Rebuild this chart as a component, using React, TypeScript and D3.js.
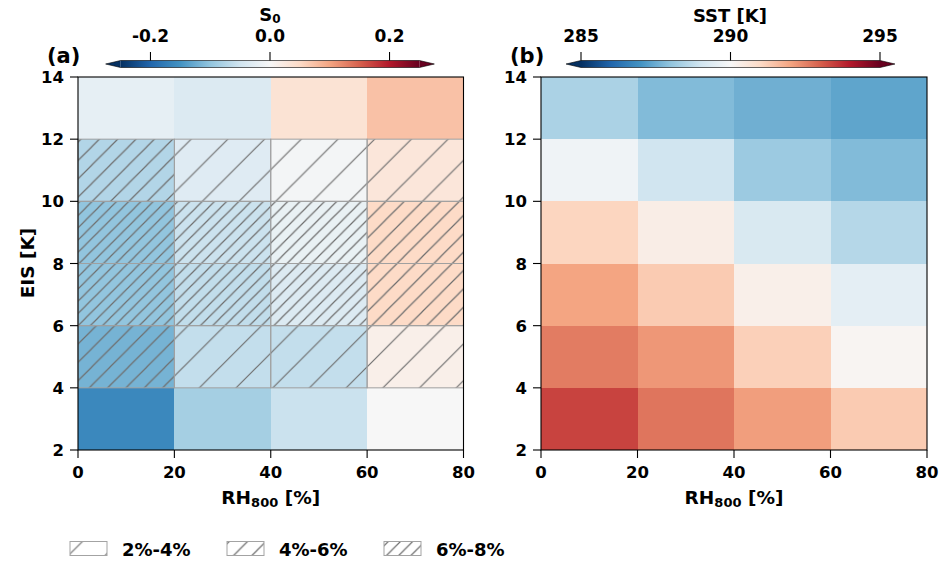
import React from 'react';
import * as d3 from 'd3';

// RH800 bins (x) and EIS bins (y)
const rhEdges = [0, 20, 40, 60, 80];
const eisEdges = [2, 4, 6, 8, 10, 12, 14];
const rhTicks = [0, 20, 40, 60, 80];
const eisTicks = [2, 4, 6, 8, 10, 12, 14];

// rows from EIS 2-4 (bottom) up to 12-14 (top), columns RH 0-20 ... 60-80
const s0Values = [
  [-0.162, -0.085, -0.055, 0.0],
  [-0.118, -0.061, -0.061, 0.015],
  [-0.1, -0.063, -0.035, 0.05],
  [-0.1, -0.055, -0.018, 0.05],
  [-0.075, -0.032, -0.005, 0.03],
  [-0.022, -0.036, 0.036, 0.074],
];
const sstValues = [
  [293.4, 292.7, 292.1, 291.3],
  [292.6, 292.2, 291.2, 290.1],
  [292.0, 291.3, 290.3, 289.5],
  [291.1, 290.36, 289.2, 288.56],
  [289.8, 289.0, 288.16, 287.8],
  [288.4, 287.8, 287.57, 287.35],
];
// sample fraction class: 0 none, 1 = 2%-4%, 2 = 4%-6%, 3 = 6%-8%
const hatchLevel = [
  [0, 0, 0, 0],
  [2, 1, 1, 1],
  [3, 3, 3, 2],
  [3, 3, 3, 2],
  [2, 1, 1, 1],
  [0, 0, 0, 0],
];
const legendLabels = ['2%-4%', '4%-6%', '6%-8%'];

const s0Ticks = [-0.2, 0.0, 0.2];
const sstTicks = [285, 290, 295];

// matplotlib RdBu_r, 11 brewer anchors linearly interpolated
const rdbuR = ['#053061', '#2166ac', '#4393c3', '#92c5de', '#d1e5f0', '#f7f7f7',
  '#fddbc7', '#f4a582', '#d6604d', '#b2182b', '#67001f'];

const makeCmap = (lo: number, hi: number) =>
  d3.scaleLinear<string>()
    .domain(d3.range(11).map(i => lo + (hi - lo) * i / 10))
    .range(rdbuR)
    .interpolate(d3.interpolateRgb)
    .clamp(true);

const font = 'DejaVu Sans, sans-serif';
const top = 77, bottom = 450;
const hatchBase = 36.7;

function Panel({ left, right, values, cmap, hatches, tag }: any) {
  const x = d3.scaleLinear().domain([0, 80]).range([left, right]);
  const y = d3.scaleLinear().domain([2, 14]).range([bottom, top]);
  const cells: any[] = [];
  values.forEach((row: number[], r: number) => {
    row.forEach((v, c) => {
      cells.push({ r, c, v, h: hatches ? hatches[r][c] : 0 });
    });
  });
  return (
    <g>
      {cells.map(d => (
        <rect key={`f${d.r}-${d.c}`}
          x={x(rhEdges[d.c])} y={y(eisEdges[d.r + 1])}
          width={x(rhEdges[d.c + 1]) - x(rhEdges[d.c])}
          height={y(eisEdges[d.r]) - y(eisEdges[d.r + 1])}
          fill={cmap(d.v)} shapeRendering="crispEdges" />
      ))}
      {cells.filter(d => d.h > 0).map(d => (
        <rect key={`h${d.r}-${d.c}`}
          x={x(rhEdges[d.c])} y={y(eisEdges[d.r + 1])}
          width={x(rhEdges[d.c + 1]) - x(rhEdges[d.c])}
          height={y(eisEdges[d.r]) - y(eisEdges[d.r + 1])}
          fill={`url(#hatch${d.h})`} stroke="#a0a0a0" strokeWidth={1} />
      ))}
      <rect x={left} y={top} width={right - left} height={bottom - top}
        fill="none" stroke="#000" strokeWidth={1.1} />
      {rhTicks.map(t => (
        <g key={`x${t}`}>
          <line x1={x(t)} x2={x(t)} y1={bottom} y2={bottom + 8} stroke="#000" strokeWidth={1.1} />
          <text x={x(t)} y={478} textAnchor="middle" fontSize={16.5} fontWeight="bold">{t}</text>
        </g>
      ))}
      {eisTicks.map(t => (
        <g key={`y${t}`}>
          <line x1={left - 8} x2={left} y1={y(t)} y2={y(t)} stroke="#000" strokeWidth={1.1} />
          <text x={left - 14} y={y(t) + 6} textAnchor="end" fontSize={16.5} fontWeight="bold">{t}</text>
        </g>
      ))}
      <text x={(left + right) / 2} y={504} textAnchor="middle" fontSize={18.5} fontWeight="bold">
        RH<tspan fontSize={13} dy={3}>800</tspan><tspan dy={-3}> [%]</tspan>
      </text>
      <text x={left - 31} y={63} fontSize={21} fontWeight="bold">{tag}</text>
    </g>
  );
}

function Colorbar({ lo, hi, x0, x1, cmap, ticks, fmt, label, id }: any) {
  const s = d3.scaleLinear().domain([lo, hi]).range([x0, x1]);
  const ext = (x1 - x0) * 0.05;
  const yt = 60.5, yb = 67.5, ym = (yt + yb) / 2;
  const stops = d3.range(0, 1.0001, 0.05);
  return (
    <g>
      <defs>
        <linearGradient id={id} x1="0" x2="1" y1="0" y2="0">
          {stops.map(t => (
            <stop key={t} offset={t} stopColor={cmap(lo + (hi - lo) * t)} />
          ))}
        </linearGradient>
      </defs>
      <path d={`M${x0},${yt}L${x0 - ext},${ym}L${x0},${yb}Z`} fill={cmap(lo)} />
      <path d={`M${x1},${yt}L${x1 + ext},${ym}L${x1},${yb}Z`} fill={cmap(hi)} />
      <rect x={x0} y={yt} width={x1 - x0} height={yb - yt} fill={`url(#${id})`} />
      <path d={`M${x0},${yt}L${x0 - ext},${ym}L${x0},${yb}L${x1},${yb}L${x1 + ext},${ym}L${x1},${yt}Z`}
        fill="none" stroke="#000" strokeWidth={0.6} />
      {ticks.map((t: number) => (
        <g key={t}>
          <line x1={s(t)} x2={s(t)} y1={yt} y2={52} stroke="#000" strokeWidth={1.1} />
          <text x={s(t)} y={42} textAnchor="middle" fontSize={17} fontWeight="bold">{fmt(t)}</text>
        </g>
      ))}
      {label}
    </g>
  );
}

export default function App() {
  const s0Cmap = makeCmap(-0.25, 0.25);
  const sstCmap = makeCmap(285, 295);
  const legendX = [70, 227, 384];
  return (
    <svg width={950} height={561} style={{ position: 'absolute', left: 0, top: 0 }}
      fontFamily={font}>
      <defs>
        {[1, 2, 3].map(k => {
          const sp = hatchBase / k;
          return (
            <pattern key={k} id={`hatch${k}`} patternUnits="userSpaceOnUse"
              width={sp} height={sp}>
              <path d={`M-2,2L2,-2M0,${sp}L${sp},0M${sp - 2},${sp + 2}L${sp + 2},${sp - 2}`}
                stroke="#6e6e6e" strokeWidth={1.2} />
            </pattern>
          );
        })}
      </defs>
      <rect width={950} height={561} fill="#fff" />
      <Panel left={78} right={463.5} values={s0Values} cmap={s0Cmap} hatches={hatchLevel} tag="(a)" />
      <Panel left={541} right={927} values={sstValues} cmap={sstCmap} hatches={null} tag="(b)" />
      <text transform="translate(34,263) rotate(-90)" textAnchor="middle" fontSize={18.5} fontWeight="bold">EIS [K]</text>
      <Colorbar lo={-0.25} hi={0.25} x0={120.6} x1={419.4} cmap={s0Cmap} ticks={s0Ticks}
        fmt={(t: number) => d3.format('.1f')(t).replace('−', '-')} id="cbA"
        label={<text x={270} y={21} textAnchor="middle" fontSize={18} fontWeight="bold">
          S<tspan fontSize={12} dy={2}>0</tspan></text>} />
      <Colorbar lo={285} hi={295} x0={581} x1={880} cmap={sstCmap} ticks={sstTicks}
        fmt={(t: number) => String(t)} id="cbB"
        label={<text x={730} y={22} textAnchor="middle" fontSize={18} fontWeight="bold">SST [K]</text>} />
      {legendLabels.map((lab, i) => (
        <g key={lab}>
          <rect x={legendX[i]} y={541.5} width={37} height={14} fill="#fff" />
          <rect x={legendX[i]} y={541.5} width={37} height={14} fill={`url(#hatch${i + 1})`}
            stroke="#a3a3a3" strokeWidth={1} />
          <text x={legendX[i] + 52} y={556} fontSize={18} fontWeight="bold">{lab}</text>
        </g>
      ))}
    </svg>
  );
}
